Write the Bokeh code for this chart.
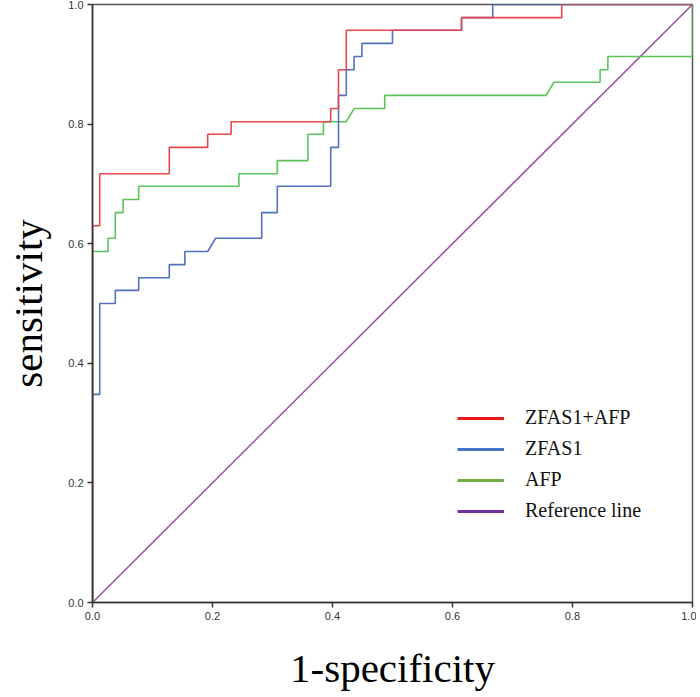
from bokeh.plotting import figure
from bokeh.models import Range1d, FixedTicker, PrintfTickFormatter, Legend, LegendItem
from bokeh.embed import file_html
from bokeh.resources import INLINE

# ROC vertices (1-specificity, sensitivity)
combo_fpr = [0, 0, 0.012, 0.012, 0.128, 0.128, 0.192, 0.192, 0.231, 0.231, 0.397, 0.397,
             0.410, 0.410, 0.423, 0.423, 0.615, 0.615, 0.782, 0.782, 1.0]
combo_tpr = [0, 0.630, 0.630, 0.717, 0.717, 0.761, 0.761, 0.783, 0.783, 0.804, 0.804, 0.826,
             0.826, 0.891, 0.891, 0.957, 0.957, 0.978, 0.978, 1.0, 1.0]

zfas_fpr = [0, 0, 0.012, 0.012, 0.038, 0.038, 0.077, 0.077, 0.128, 0.128, 0.154, 0.154,
            0.192, 0.205, 0.282, 0.282, 0.308, 0.308, 0.397, 0.397, 0.410, 0.410, 0.423,
            0.423, 0.436, 0.436, 0.449, 0.449, 0.500, 0.500, 0.615, 0.615, 0.667, 0.667, 1.0]
zfas_tpr = [0, 0.348, 0.348, 0.500, 0.500, 0.522, 0.522, 0.543, 0.543, 0.565, 0.565, 0.587,
            0.587, 0.609, 0.609, 0.652, 0.652, 0.696, 0.696, 0.761, 0.761, 0.848, 0.848,
            0.891, 0.891, 0.913, 0.913, 0.935, 0.935, 0.957, 0.957, 0.978, 0.978, 1.0, 1.0]

afp_fpr = [0, 0, 0.026, 0.026, 0.038, 0.038, 0.051, 0.051, 0.077, 0.077, 0.244, 0.244,
           0.308, 0.308, 0.359, 0.359, 0.385, 0.385, 0.423, 0.436, 0.487, 0.487, 0.756,
           0.769, 0.846, 0.846, 0.859, 0.859, 1.0, 1.0]
afp_tpr = [0, 0.587, 0.587, 0.609, 0.609, 0.652, 0.652, 0.674, 0.674, 0.696, 0.696, 0.717,
           0.717, 0.739, 0.739, 0.783, 0.783, 0.804, 0.804, 0.826, 0.826, 0.848, 0.848,
           0.870, 0.870, 0.891, 0.891, 0.913, 0.913, 1.0]

ref_x = [0, 1]
ref_y = [0, 1]

ticks = [0.0, 0.2, 0.4, 0.6, 0.8, 1.0]
labels = ["ZFAS1+AFP", "ZFAS1", "AFP", "Reference line"]
x_title = "1-specificity"
y_title = "sensitivity"

p = figure(width=696, height=693, x_range=Range1d(0, 1), y_range=Range1d(0, 1),
           output_backend="svg", toolbar_location=None,
           min_border_left=92, min_border_right=4, min_border_top=4, min_border_bottom=89)
p.background_fill_color = "white"
p.border_fill_color = "white"
p.grid.visible = False
p.outline_line_color = "#555555"
p.outline_line_width = 1.5

r_ref = p.line(ref_x, ref_y, line_color="#9a4ea8", line_width=1.5)
r_afp = p.line(afp_fpr, afp_tpr, line_color="#5cc35c", line_width=1.6)
r_zfas = p.line(zfas_fpr, zfas_tpr, line_color="#5270c0", line_width=1.6)
r_combo = p.line(combo_fpr, combo_tpr, line_color="#e8464c", line_width=1.6)

# legend swatches (a single NaN point: nothing drawn in the plot)
nan = [float("nan")]
lg_combo = p.line(nan, nan, line_color="#f01a1a", line_width=3)
lg_zfas = p.line(nan, nan, line_color="#4472c4", line_width=3)
lg_afp = p.line(nan, nan, line_color="#70ad47", line_width=3)
lg_ref = p.line(nan, nan, line_color="#7030a0", line_width=3)

legend = Legend(items=[LegendItem(label=labels[0], renderers=[lg_combo]),
                       LegendItem(label=labels[1], renderers=[lg_zfas]),
                       LegendItem(label=labels[2], renderers=[lg_afp]),
                       LegendItem(label=labels[3], renderers=[lg_ref])],
                location=(365, 80))
legend.border_line_color = None
legend.background_fill_alpha = 0
legend.padding = 0
legend.margin = 0
legend.glyph_width = 47
legend.glyph_height = 22
legend.label_height = 22
legend.label_standoff = 21
legend.spacing = 8
legend.label_text_font = "Liberation Serif"
legend.label_text_font_size = "20px"
legend.label_text_color = "#111111"
p.add_layout(legend, "center")

for ax in (p.xaxis, p.yaxis):
    ax.ticker = FixedTicker(ticks=ticks)
    ax.formatter = PrintfTickFormatter(format="%.1f")
    ax.minor_tick_line_color = None
    ax.major_tick_in = 0
    ax.major_tick_out = 5
    ax.major_tick_line_color = "#333333"
    ax.major_tick_line_width = 1.5
    ax.axis_line_color = "#333333"
    ax.axis_line_width = 1.5
    ax.major_label_text_font = "Liberation Sans"
    ax.major_label_text_font_size = "11px"
    ax.major_label_text_color = "#333333"
    ax.major_label_standoff = 4
    ax.axis_label_text_font = "Liberation Serif"
    ax.axis_label_text_font_style = "normal"
    ax.axis_label_text_color = "#000000"
    ax.axis_label_text_font_size = "41px"
    ax.axis_label_text_line_height = 1.0

p.xaxis.axis_label = x_title
p.xaxis.axis_label_standoff = 22
p.yaxis.axis_label = y_title
p.yaxis.axis_label_standoff = 14

open("out.html", "w").write(file_html(p, INLINE))
